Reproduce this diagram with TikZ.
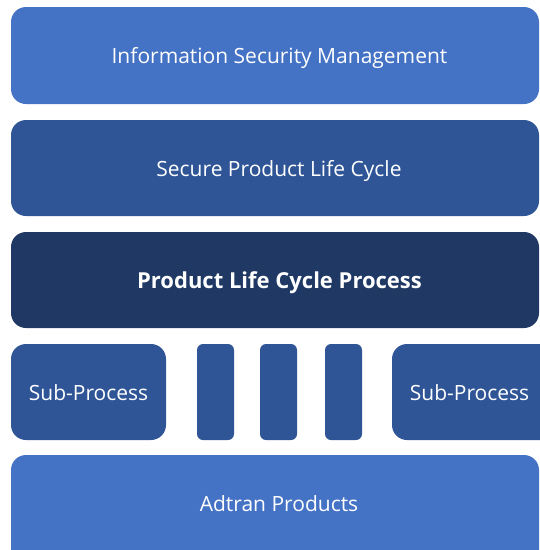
\documentclass[tikz,border=0pt]{standalone}
\usepackage{fontspec}
\setmainfont{Open Sans}
\definecolor{lightblue}{HTML}{4472C4}
\definecolor{midblue}{HTML}{2F5597}
\definecolor{darkblue}{HTML}{1F3864}
\begin{document}
\begin{tikzpicture}[x=1pt,y=-1pt,
  layer/.style={text=white, anchor=base, inner sep=0pt, font=\fontsize{21}{24}\selectfont},
  boxshape/.style={rounded corners=15pt},
  bar/.style={rounded corners=6pt, fill=midblue}]
\useasboundingbox (0,0) rectangle (540,550);
\clip (0,0) rectangle (540,550);
\fill[lightblue, boxshape] (11,7) rectangle (539,104);
\node[layer] (ism) at (279.5,63.5) {Information Security Management};
\fill[midblue, boxshape] (11,120) rectangle (539,216);
\node[layer] (splc) at (279,176) {Secure Product Life Cycle};
\fill[darkblue, boxshape] (11,232) rectangle (539,328);
\node[layer, font=\bfseries\fontsize{22}{25}\selectfont] (plcp) at (279.5,288) {Product Life Cycle Process};
\fill[midblue, boxshape] (11,344) rectangle (166,440);
\node[layer] (sp1) at (88.5,400) {Sub-Process};
\fill[bar] (197,344) rectangle (234,440);
\fill[bar] (260,344) rectangle (297,440);
\fill[bar] (325,344) rectangle (362,440);
\fill[midblue, boxshape] (392,344) rectangle (555,440);
\node[layer] (sp2) at (469.5,400) {Sub-Process};
\fill[lightblue, boxshape] (11,455) rectangle (539,565);
\node[layer] (ap) at (279,511) {Adtran Products};
\end{tikzpicture}
\end{document}
